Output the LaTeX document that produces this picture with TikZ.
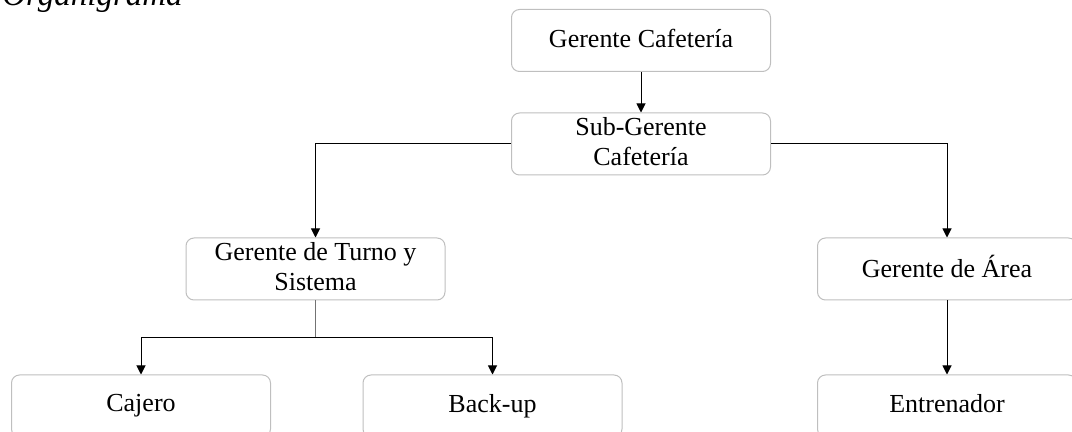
\documentclass[tikz,border=0pt]{standalone}
\usepackage{fontspec}
\setmainfont{Liberation Serif}[ItalicFont=Liberation Serif Italic]
\usetikzlibrary{arrows, arrows.meta, positioning}
\definecolor{bordegris}{RGB}{191, 191, 191}
\newcommand\puntal{\rule[-2.5pt]{0pt}{11pt}}
\tikzset{
  cargo/.style={draw=bordegris, line width=0.5pt, rounded corners=4pt, minimum width=129.5pt, minimum height=31pt, inner sep=0pt, align=center, font=\fontsize{13}{15}\selectfont, execute at begin node=\puntal, execute at end node=\puntal},
  linea/.style={line width=0.5pt},
  flecha/.style={line width=0.5pt, -{Triangle[length=4.5pt,width=4.5pt]}}
}
\begin{document}
\begin{tikzpicture}[x=0.5pt, y=-0.5pt]
                    \useasboundingbox (0,0) rectangle (1072,432);
                    \clip (0,0) rectangle (1072,432);
                    \node[anchor=base west, inner sep=0pt, font=\itshape\fontsize{16.5}{18}\selectfont] (titulo) at (2,6) {Organigrama};
                    \node[cargo] (gerente) at (641,40.5) {Gerente Cafetería};
                    \node[cargo] (subgerente) at (641,144) {Sub-Gerente\\Cafetería};
                    \node[cargo] (turno) at (315.5,269) {Gerente de Turno y\\Sistema};
                    \node[cargo] (area) at (947,269) {Gerente de Área};
                    \node[cargo] (cajero) at (141,406) {Cajero};
                    \node[cargo] (backup) at (492.5,406) {Back-up};
                    \node[cargo] (entrenador) at (947,406) {Entrenador};
                    \coordinate (rama) at (315.5,338);
                    \draw[flecha] (gerente) -- (subgerente);
                    \draw[flecha] (subgerente.west) -| (turno.north);
                    \draw[flecha] (subgerente.east) -| (area.north);
                    \draw[linea, black!55] (turno.south) -- (rama);
                    \draw[flecha] (rama) -| (cajero.north);
                    \draw[flecha] (rama) -| (backup.north);
                    \draw[flecha] (area) -- (entrenador);
                \end{tikzpicture}
\end{document}
